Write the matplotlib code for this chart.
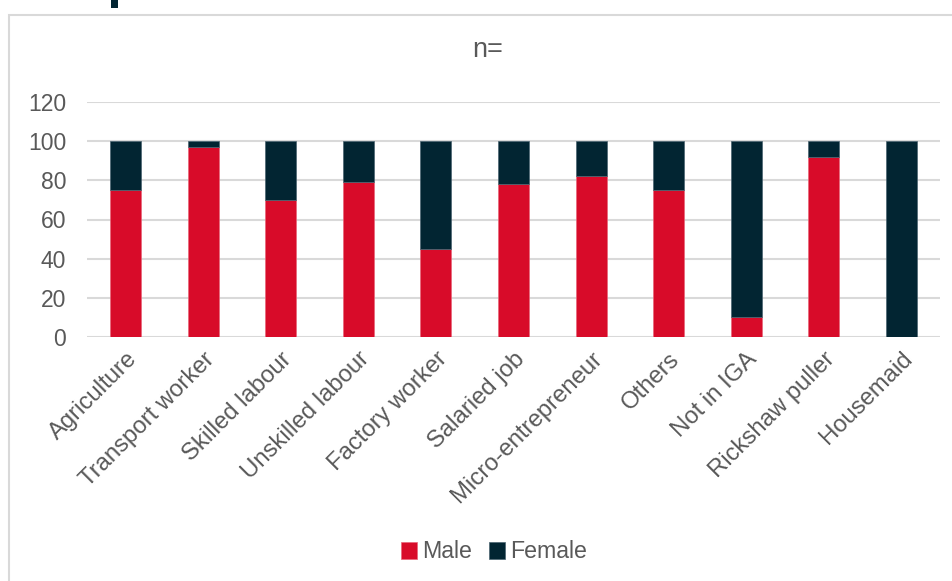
import matplotlib.pyplot as plt
from matplotlib.patches import Rectangle

plt.rcParams['font.family'] = ['Liberation Sans', 'DejaVu Sans']

categories = ["Agriculture", "Transport worker", "Skilled labour", "Unskilled labour",
              "Factory worker", "Salaried job", "Micro-entrepreneur", "Others",
              "Not in IGA", "Rickshaw puller", "Housemaid"]
male = [75, 97, 70, 79, 45, 78, 82, 75, 10, 92, 0]
female = [100 - m for m in male]

red = "#d80b29"
dark = "#022532"
grey_text = "#595959"
grid = "#d9d9d9"

fig = plt.figure(figsize=(9.53, 5.81), dpi=100)

# outer chart frame, partly cut off at the right and bottom
fig.patches.append(Rectangle((9.5 / 953, -0.05), 1.1, 1 - 14.5 / 581 + 0.05,
                             transform=fig.transFigure, fill=False,
                             edgecolor=grid, linewidth=1.5))
# tail of the title above the frame
fig.patches.append(Rectangle((111 / 953, 1 - 8 / 581), 7 / 953, 8 / 581,
                             transform=fig.transFigure, facecolor=dark,
                             edgecolor="none"))

ax = fig.add_axes([87 / 953, 1 - 337 / 581, (940 - 87) / 953, (337 - 102) / 581])
x = range(len(categories))
ax.bar(x, male, width=0.4, color=red, label="Male", zorder=3,
       edgecolor="#e8667a", linewidth=0.5)
ax.bar(x, female, width=0.4, bottom=male, color=dark, label="Female", zorder=3,
       edgecolor="#4a6470", linewidth=0.5)

ax.set_ylim(0, 120)
ax.set_xlim(-0.5, len(categories) - 0.5)
ax.set_yticks(range(0, 121, 20))
ax.yaxis.grid(True, color=grid, linewidth=1.5, zorder=0)
for s in ax.spines.values():
    s.set_visible(False)
ax.tick_params(axis="both", length=0, labelcolor=grey_text)
ax.tick_params(axis="y", pad=15, labelsize=16.5)
ax.set_xticks(list(x))
ax.set_xticklabels(categories, rotation=45, ha="right", rotation_mode="anchor")
ax.tick_params(axis="x", pad=8, labelsize=17.2)

fig.text(488 / 953, 1 - 50 / 581, "n=", ha="center", va="center",
         fontsize=19.5, color=grey_text)

fig.legend(loc="center", bbox_to_anchor=(494 / 953, 1 - 552 / 581), ncol=2,
           frameon=False, fontsize=16.7, labelcolor=grey_text, handlelength=0.7,
           handleheight=0.7, handletextpad=0.2, columnspacing=0.75)

fig.savefig("out.png", dpi=100)
